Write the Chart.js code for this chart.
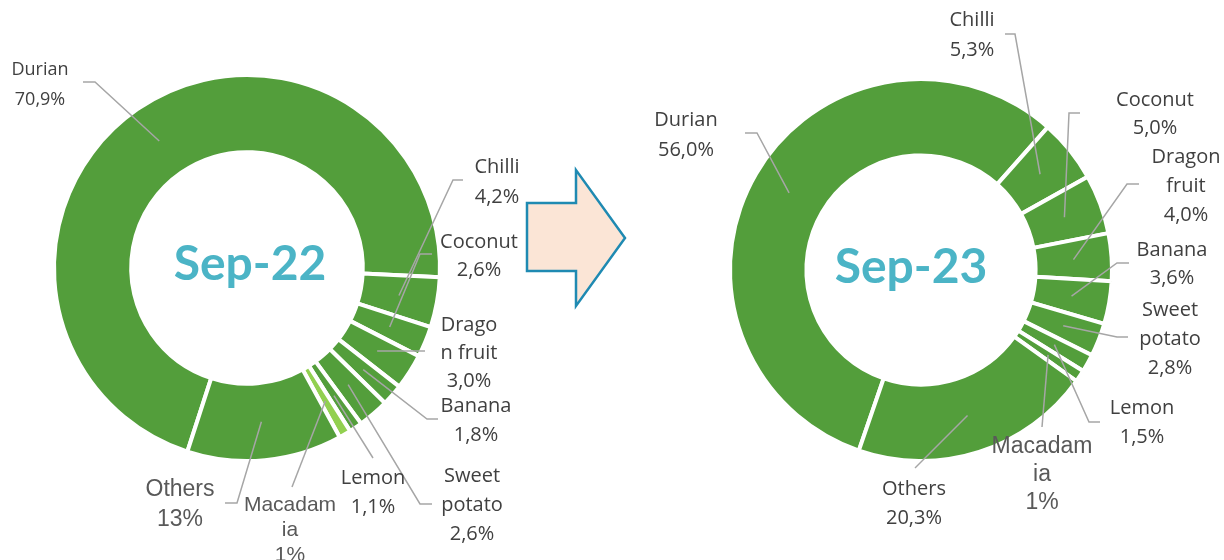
<!DOCTYPE html>
<html>
<head>
<meta charset="utf-8">
<script src="https://cdn.jsdelivr.net/npm/chart.js@4.4.1/dist/chart.umd.min.js"></script>
<style>
  html, body { margin: 0; padding: 0; background: #fff; }
  #wrap { position: relative; width: 1224px; height: 560px; overflow: hidden; }
  .box { position: absolute; top: 0; width: 612px; height: 560px; }
  #box22 { left: 0; }
  #box23 { left: 612px; }
  #arrow { position: absolute; left: 0; top: 0; }
</style>
</head>
<body>
<div id="wrap">
  <div class="box" id="box22"><canvas id="chart-sep22"></canvas></div>
  <div class="box" id="box23"><canvas id="chart-sep23"></canvas></div>
  <svg id="arrow" width="1224" height="560">
    <polygon points="527,203 576,203 576,170 625,238 576,306 576,271 527,271"
      fill="#fbe5d6" stroke="#1f8ab2" stroke-width="2.5" stroke-linejoin="miter"/>
  </svg>
</div>
<script>
const categories = ['Durian', 'Chilli', 'Coconut', 'Dragon fruit', 'Banana', 'Sweet potato', 'Lemon', 'Macadamia', 'Others'];
const sep22Values = [70.9, 4.2, 2.6, 3.0, 1.8, 2.6, 1.1, 1, 13];
const sep23Values = [56.0, 5.3, 5.0, 4.0, 3.6, 2.8, 1.5, 1, 20.3];
const sep22Decimals = [1, 1, 1, 1, 1, 1, 1, 0, 0];
const sep23Decimals = [1, 1, 1, 1, 1, 1, 1, 0, 1];

const GREEN = '#539e3b';
const LIGHT_GREEN = '#92d050';
const DARK = '#404040';
const GREY = '#595959';
const LABEL_FONT = '"Open Sans", "Noto Sans", sans-serif';
const ARIAL = '"Liberation Sans", Arial, sans-serif';

// label placement (page px): name lines, centre x, first line y, line height, leader points
const sep22Layout = [
  { lines: ['Durian'], x: 40, y: 70, lh: 30, size: 18, line: [[95, 82], [83, 82]] },
  { lines: ['Chilli'], x: 497, y: 167, lh: 30, line: [[453, 180], [463, 180]] },
  { lines: ['Coconut'], x: 479, y: 242, lh: 28, line: [[420, 254], [432, 254]] },
  { lines: ['Drago', 'n fruit'], x: 469, y: 325, lh: 28, line: [[415, 351], [425, 351]] },
  { lines: ['Banana'], x: 476, y: 406, lh: 29, line: [[427, 419], [438, 419]] },
  { lines: ['Sweet', 'potato'], x: 472, y: 476, lh: 29, line: [[420, 504], [432, 504]] },
  { lines: ['Lemon'], x: 373, y: 478, lh: 29, line: [[373, 458]] },
  { lines: ['Macadam', 'ia'], x: 290, y: 505, lh: 25, size: 21, font: ARIAL, color: GREY, line: [[292, 487]] },
  { lines: ['Others'], x: 180, y: 490, lh: 30, size: 23, font: ARIAL, color: GREY, line: [[237, 503], [225, 503]] }
];
const sep23Layout = [
  { lines: ['Durian'], x: 686, y: 120, lh: 30, line: [[757, 133], [745, 133]] },
  { lines: ['Chilli'], x: 972, y: 20, lh: 30, line: [[1015, 34], [1005, 34]] },
  { lines: ['Coconut'], x: 1155, y: 100, lh: 28, line: [[1069, 113], [1080, 113]] },
  { lines: ['Dragon', 'fruit'], x: 1186, y: 157, lh: 29, line: [[1127, 184], [1139, 184]] },
  { lines: ['Banana'], x: 1172, y: 250, lh: 28, line: [[1117, 263], [1129, 263]] },
  { lines: ['Sweet', 'potato'], x: 1170, y: 310, lh: 29, line: [[1117, 337], [1128, 337]] },
  { lines: ['Lemon'], x: 1142, y: 408, lh: 29, line: [[1089, 422], [1100, 422]] },
  { lines: ['Macadam', 'ia'], x: 1042, y: 447, lh: 28, size: 23, font: ARIAL, color: GREY, line: [[1042, 427]] },
  { lines: ['Others'], x: 914, y: 489, lh: 29, line: [[915, 468]] }
];

const outsideLabels = {
  id: 'outsideLabels',
  afterDatasetsDraw(chart, args, opts) {
    const ctx = chart.ctx;
    const arcs = chart.getDatasetMeta(0).data;
    const values = chart.data.datasets[0].data;
    ctx.save();
    // centre title
    const c = arcs[0];
    ctx.fillStyle = '#4bb4c6';
    ctx.font = 'bold 48px Lato, "Open Sans", sans-serif';
    ctx.textAlign = 'center';
    ctx.textBaseline = 'middle';
    ctx.fillText(opts.title, c.x + opts.titleDx, c.y + opts.titleDy);

    opts.layout.forEach((lab, i) => {
      const p = arcs[i].tooltipPosition();
      ctx.strokeStyle = '#a6a6a6';
      ctx.lineWidth = 1.5;
      ctx.beginPath();
      ctx.moveTo(p.x, p.y);
      lab.line.forEach(pt => ctx.lineTo(pt[0] - opts.offsetX, pt[1]));
      ctx.stroke();

      const pct = values[i].toFixed(opts.decimals[i]).replace('.', ',') + '%';
      const lines = lab.lines.concat([pct]);
      ctx.fillStyle = lab.color || DARK;
      ctx.font = (lab.size || 20) + 'px ' + (lab.font || LABEL_FONT);
      lines.forEach((t, k) => ctx.fillText(t, lab.x - opts.offsetX, lab.y + k * lab.lh));
    });
    ctx.restore();
  }
};

function makeChart(id, values, rotation, padding, pluginOpts) {
  const colors = categories.map(() => GREEN);
  if (pluginOpts.lightIndex != null) colors[pluginOpts.lightIndex] = LIGHT_GREEN;
  return new Chart(document.getElementById(id).getContext('2d'), {
    type: 'doughnut',
    data: {
      labels: categories,
      datasets: [{
        data: values,
        backgroundColor: colors,
        borderColor: '#ffffff',
        borderWidth: 4
      }]
    },
    options: {
      responsive: true,
      maintainAspectRatio: false,
      animation: false,
      cutout: '60%',
      rotation: rotation,
      layout: { padding },
      plugins: {
        legend: { display: false },
        tooltip: { enabled: false },
        outsideLabels: pluginOpts
      }
    },
    plugins: [outsideLabels]
  });
}

makeChart('chart-sep22', sep22Values, 198,
  { left: 52, top: 73, right: 170, bottom: 97 },
  { title: 'Sep-22', titleDx: 3, titleDy: -3, layout: sep22Layout, decimals: sep22Decimals, offsetX: 0, lightIndex: 7 });
makeChart('chart-sep23', sep23Values, 199,
  { left: 116, top: 77, right: 110, bottom: 97 },
  { title: 'Sep-23', titleDx: -10, titleDy: -2, layout: sep23Layout, decimals: sep23Decimals, offsetX: 612 });
</script>
</body>
</html>
